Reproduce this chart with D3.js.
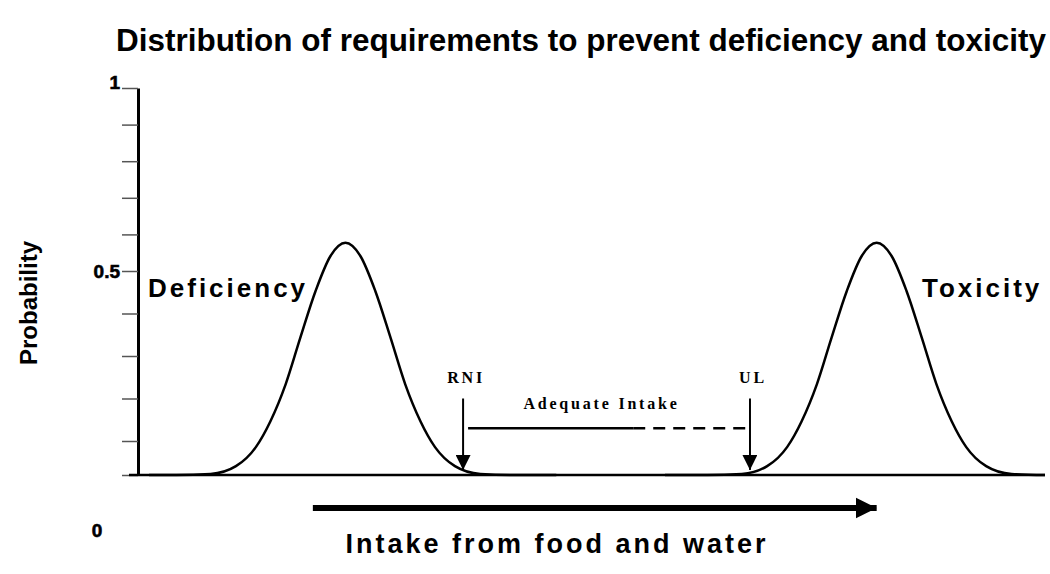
<!DOCTYPE html>
<html>
<head>
<meta charset="utf-8">
<script src="https://cdn.jsdelivr.net/npm/d3@7"></script>
<style>
  body { margin: 0; background: #fff; }
  svg { display: block; font-family: "Liberation Sans", Arial, sans-serif; }
</style>
</head>
<body>
<svg></svg>
<script>
// intake positions (0-100) and probability values
var deficiencyX = [1, 4, 7.8, 10.6, 12.8, 14.4, 16.1, 17.7, 19.4, 21.05, 22.7, 24.35, 26, 27.7, 29.3, 31, 32.6, 34.8, 37.6, 41.4, 46];
var deficiencyY = [0, 0, 0.003, 0.026, 0.082, 0.146, 0.234, 0.342, 0.453, 0.541, 0.577, 0.541, 0.453, 0.342, 0.234, 0.146, 0.082, 0.026, 0.003, 0, 0];
var toxicityX = [58, 62.7, 66.5, 69.3, 71.5, 73.1, 74.8, 76.4, 78.1, 79.75, 81.4, 83.05, 84.7, 86.4, 88, 89.7, 91.3, 93.5, 96.3, 100];
var toxicityY = [0, 0, 0.003, 0.026, 0.082, 0.146, 0.234, 0.342, 0.453, 0.541, 0.577, 0.541, 0.453, 0.342, 0.234, 0.146, 0.082, 0.026, 0.003, 0];

var yTicks = [0, 0.1, 0.2, 0.3, 0.4, 0.5, 0.6, 0.7, 0.8, 0.9, 1];
var yTickLabels = {"1": "1", "0.5": "0.5"};

var markerLabels = ["RNI", "UL"];
var markerX = [35.7, 67.4];
var markerTop = 0.2, markerTip = 0.015;
var adequateY = 0.13;
var adequateSolidEnd = 54.5;

var intakeArrow = [19.1, 81.4];

window.onload = function(){
    var width = 1050, height = 574;
    var svg = d3.select("svg").attr("width", width).attr("height", height);

    var x = d3.scaleLinear().domain([0, 100]).range([140, 1045]);
    // the original axis is not evenly spaced
    var y = d3.scaleLinear().domain([0, 0.1, 0.5, 1]).range([475, 441, 271, 88]);

    var defs = svg.append("defs");
    defs.append("marker").attr("id", "head")
        .attr("viewBox", "0 0 10 10").attr("refX", 10).attr("refY", 5)
        .attr("markerUnits", "userSpaceOnUse")
        .attr("markerWidth", 18).attr("markerHeight", 15)
        .attr("orient", "auto")
      .append("path").attr("d", "M0,0L10,5L0,10Z").attr("fill", "#000");
    defs.append("marker").attr("id", "bighead")
        .attr("viewBox", "0 0 10 10").attr("refX", 10).attr("refY", 5)
        .attr("markerUnits", "userSpaceOnUse")
        .attr("markerWidth", 21).attr("markerHeight", 22)
        .attr("orient", "auto")
      .append("path").attr("d", "M0,0L10,5L0,10Z").attr("fill", "#000");

    // title
    svg.append("text")
        .attr("x", 116).attr("y", 51)
        .attr("font-size", 31).attr("font-weight", "bold")
        .attr("textLength", 930).attr("lengthAdjust", "spacingAndGlyphs")
        .text("Distribution of requirements to prevent deficiency and toxicity");

    // y axis
    var yAxis = d3.axisLeft(y)
        .tickValues(yTicks)
        .tickSize(16).tickSizeOuter(0).tickPadding(2)
        .tickFormat(function(d){ return yTickLabels[String(d)] || ""; });
    var gy = svg.append("g").attr("transform", "translate(138,0)").call(yAxis);
    gy.select(".domain").attr("stroke", "#000").attr("stroke-width", 3);
    gy.selectAll(".tick line").attr("stroke", "#555").attr("stroke-width", 1.5);
    gy.selectAll(".tick text")
        .attr("font-size", 19).attr("font-weight", "bold")
        .attr("font-family", "Liberation Sans, Arial, sans-serif")
        .attr("fill", "#000").attr("stroke", "#000").attr("stroke-width", 0.6)
        .attr("dy", function(d){ return d === 1 ? "0em" : "0.32em"; });

    svg.append("text")
        .attr("x", 97).attr("y", 537)
        .attr("text-anchor", "middle")
        .attr("font-size", 19).attr("font-weight", "bold")
        .attr("stroke", "#000").attr("stroke-width", 0.6)
        .text("0");

    svg.append("text")
        .attr("transform", "translate(37,303) rotate(-90)")
        .attr("text-anchor", "middle")
        .attr("font-size", 24).attr("font-weight", "bold")
        .text("Probability");

    // baseline
    svg.append("line")
        .attr("x1", 129).attr("x2", x(100))
        .attr("y1", y(0)).attr("y2", y(0))
        .attr("stroke", "#000").attr("stroke-width", 2.5);

    // curves
    var line = d3.line()
        .x(function(d){ return x(d[0]); })
        .y(function(d){ return y(d[1]); })
        .curve(d3.curveMonotoneX);
    [[deficiencyX, deficiencyY], [toxicityX, toxicityY]].forEach(function(s){
        svg.append("path")
            .datum(d3.zip(s[0], s[1]))
            .attr("d", line)
            .attr("fill", "none")
            .attr("stroke", "#000")
            .attr("stroke-width", 2.5);
    });

    svg.append("text")
        .attr("x", 148).attr("y", 297)
        .attr("font-size", 26).attr("font-weight", "bold")
        .attr("letter-spacing", 3)
        .text("Deficiency");
    svg.append("text")
        .attr("x", 922).attr("y", 297)
        .attr("font-size", 26).attr("font-weight", "bold")
        .attr("letter-spacing", 3)
        .text("Toxicity");

    // RNI / UL arrows
    markerX.forEach(function(mx, i){
        svg.append("line")
            .attr("x1", x(mx)).attr("x2", x(mx))
            .attr("y1", y(markerTop)).attr("y2", y(markerTip))
            .attr("stroke", "#000").attr("stroke-width", 2)
            .attr("marker-end", "url(#head)");
        svg.append("text")
            .attr("x", x(mx) + 3).attr("y", y(markerTop) - 16)
            .attr("text-anchor", "middle")
            .attr("font-family", "Liberation Serif, Times New Roman, serif")
            .attr("font-size", 16).attr("font-weight", "bold")
            .attr("letter-spacing", 2.8)
            .text(markerLabels[i]);
    });

    // adequate intake range
    svg.append("line")
        .attr("x1", x(markerX[0]) + 5).attr("x2", x(adequateSolidEnd))
        .attr("y1", y(adequateY)).attr("y2", y(adequateY))
        .attr("stroke", "#000").attr("stroke-width", 2.5);
    svg.append("line")
        .attr("x1", x(adequateSolidEnd)).attr("x2", x(markerX[1]) - 4)
        .attr("y1", y(adequateY)).attr("y2", y(adequateY))
        .attr("stroke", "#000").attr("stroke-width", 2.5)
        .attr("stroke-dasharray", "12,8");
    svg.append("text")
        .attr("x", (x(markerX[0]) + x(markerX[1])) / 2 - 5)
        .attr("y", y(adequateY) - 19)
        .attr("text-anchor", "middle")
        .attr("font-family", "Liberation Serif, Times New Roman, serif")
        .attr("font-size", 16).attr("font-weight", "bold")
        .attr("letter-spacing", 2.8)
        .text("Adequate Intake");

    // intake arrow
    svg.append("line")
        .attr("x1", x(intakeArrow[0])).attr("x2", x(intakeArrow[1]))
        .attr("y1", 508).attr("y2", 508)
        .attr("stroke", "#000").attr("stroke-width", 6)
        .attr("marker-end", "url(#bighead)");
    svg.append("text")
        .attr("x", 557).attr("y", 553)
        .attr("text-anchor", "middle")
        .attr("font-size", 27).attr("font-weight", "bold")
        .attr("letter-spacing", 3)
        .text("Intake from food and water");
};
</script>
</body>
</html>
